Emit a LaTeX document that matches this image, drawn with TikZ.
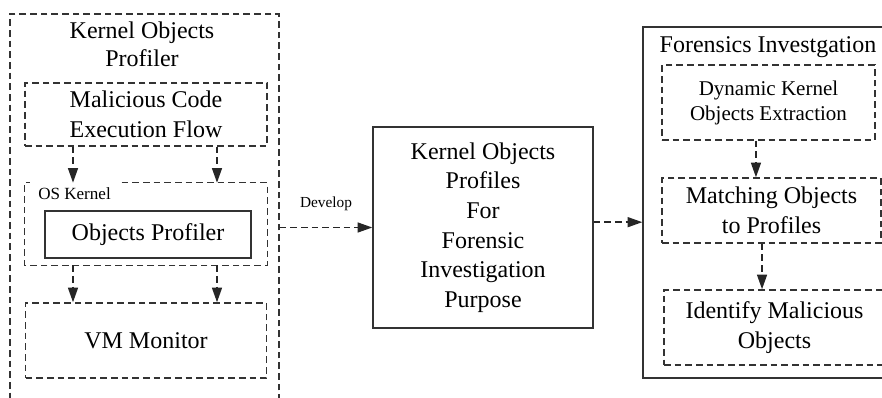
\documentclass[tikz,border=0pt]{standalone}
\usepackage{fontspec}
\setmainfont{Liberation Serif}
\usetikzlibrary{arrows.meta, positioning}
\tikzset{
        >={Triangle[length=11pt, width=7.5pt]}, % filled arrow heads
        kline/.style={draw=black!80, line width=1.1pt}, % plain border
        dline/.style={kline, dash pattern=on 5pt off 3pt}, % dashed border
        box/.style={kline, align=center, inner sep=2pt, font=\fontsize{18}{22.2}\selectfont},
        dbox/.style={box, dash pattern=on 5pt off 3pt},
        title/.style={align=center, inner sep=0pt, font=\fontsize{18}{20.8}\selectfont},
        small/.style={inner sep=0pt, font=\fontsize{12.8}{15}\selectfont},
        ghost/.style={inner sep=0pt}, % node without border, drawn by hand
        flow/.style={->, dline, draw=black!85}, % dashed arrow
    }
\begin{document}
\begin{tikzpicture}[x=0.75pt, y=-0.75pt]
    \useasboundingbox (0,0) rectangle (882,397);
    % left part
    \node[dline, ghost, minimum width=201.75pt, minimum height=304.5pt] (kof) at (144.5,217) {};
    \node[title] (koftitle) at (142,44) {Kernel Objects\\Profiler};
    \node[dbox, minimum width=181.5pt, minimum height=47.25pt] (mcef) at (146,114.5) {Malicious Code\\Execution Flow};
    \node[ghost, minimum width=181.5pt, minimum height=61.5pt, below of=mcef, node distance=82.1pt] (osk) {};
    \node[small, anchor=west] (osklabel) at (38,194) {OS Kernel};
    \node[box, minimum width=154.5pt, minimum height=35.25pt, below of=osk, node distance=7.9pt, xshift=1.5pt] (objp) {Objects Profiler};
    \node[dbox, minimum width=180.75pt, minimum height=56.25pt, below of=osk, node distance=87.4pt] (vmm) {VM Monitor};
    \draw[dline] ([xshift=72.75pt]osk.north west) -- (osk.north east) -- (osk.south east)
      -- (osk.south west) -- (osk.north west) -- ++(4pt,0);
    \foreach \dx in {-54.75pt, 53.25pt} {
      \draw[flow] ([xshift=\dx]mcef.south) coordinate (a) -- (a |- osk.north);
      \draw[flow] ([xshift=\dx]osk.south) coordinate (b) -- (b |- vmm.north);
    }
    % middle
    \node[box, minimum width=165pt, minimum height=150.75pt] (kopf) at (483,227.5)
      {Kernel Objects\\Profiles\\For\\Forensic\\Investigation\\Purpose};
    \draw[flow] (kopf.west -| kof.east) -- (kopf.west)
      node[midway, above=12pt, inner sep=0pt, font=\fontsize{11.5}{13}\selectfont] (dev) {Develop};
    % right part
    \node[kline, ghost, minimum width=192.75pt, minimum height=263.25pt] (fif) at (771.5,202.5) {};
    \node[title] (fiftitle) at (768,47.5) {Forensics Investgation};
    \node[dbox, font=\fontsize{15.75}{18.75}\selectfont, minimum width=159.75pt, minimum height=56.25pt] (dkoe) at (768.5,102.5) {Dynamic Kernel\\Objects Extraction};
    \node[dbox, minimum width=164.25pt, minimum height=48.75pt, below of=dkoe, node distance=81pt, xshift=2.25pt] (mop) {Matching Objects\\to Profiles};
    \node[dbox, minimum width=165.75pt, minimum height=56.25pt, below of=mop, node distance=87.75pt, xshift=2.25pt] (imo) {Identify Malicious\\Objects};
    \draw[flow] ([xshift=-9.4pt]dkoe.south) coordinate (d1) -- (d1 |- mop.north);
    \draw[flow] ([xshift=-7.1pt]mop.south) coordinate (d2) -- (d2 |- imo.north);
    \draw[flow] ([yshift=4pt]kopf.east) coordinate (d3) -- (d3 -| fif.west);
\end{tikzpicture}
\end{document}
